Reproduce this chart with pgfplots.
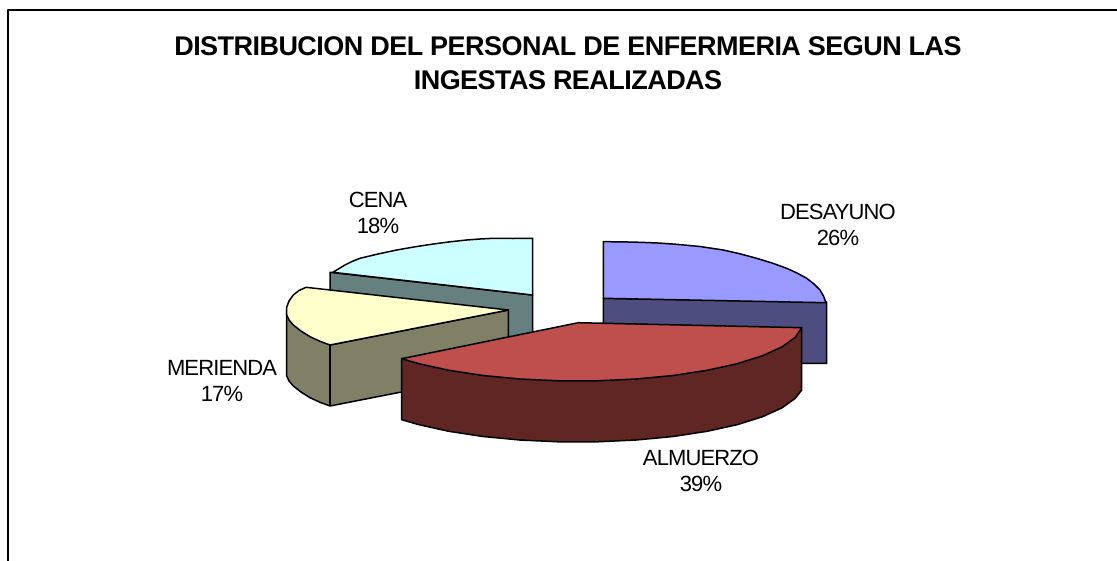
\documentclass[border=0pt]{standalone}
\usepackage{fontspec}
\setmainfont{Liberation Sans}
\usepackage{pgfplots}
\pgfplotsset{compat=1.18}
\newfontfamily\labf[LetterSpace=-4]{Liberation Sans}
\newfontfamily\titf[LetterSpace=-2]{Liberation Sans Bold}
\definecolor{cA}{HTML}{9999FF}\definecolor{cAs}{HTML}{4D4D80}
\definecolor{cB}{HTML}{BE4F4C}\definecolor{cBs}{HTML}{602624}
\definecolor{cC}{HTML}{FFFFCC}\definecolor{cCs}{HTML}{808066}
\definecolor{cD}{HTML}{CCFFFF}\definecolor{cDs}{HTML}{668080}
\begin{document}
\begin{tikzpicture}
\begin{axis}[width=1117pt,height=560pt,scale only axis,hide axis,clip=true,
  xmin=0,xmax=1117,ymin=0,ymax=560,y dir=reverse,
  every axis plot/.append style={draw=black,line width=1.5pt,line join=round}]
\path (axis cs:0,0) rectangle (axis cs:1117,560);
% frame
\addplot[draw=black,line width=1.6pt,no markers] coordinates {(8,570)(8,10)(1125,10)};
% CENA
\addplot[fill=cDs] coordinates {(330,272.3)(532.7,295)(532.7,345)(330,345)} --cycle;
\addplot[fill=cD] coordinates {(532.7,238.3)(513,238.5)(493.3,238.3)(480,239)(466.7,240)(450,241.8)(433.3,244)(415,246.8)(396.7,250)(378,254)(360,258.3)(352,261.5)(345,265)(340,268)(332.7,272.3)(532.7,295)} --cycle;
% MERIENDA
\addplot[fill=cCs] coordinates {(286.7,310)(286.7,376)(289,381)(293.3,386)(301,392)(310,397.7)(320,402.3)(330,406)(508.3,371)(508.3,310)(330,345)} --cycle;
\addplot[fill=cC] coordinates {(508.3,310)(306,287.3)(299,290.5)(293.3,295)(289,301)(286.7,307.3)(286.7,315)(289,320)(293.3,325)(301,331)(310,336.7)(320,341.3)(330,345)} --cycle;
\addplot[draw=black,line width=1.5pt] coordinates {(330,345)(330,406)};
% DESAYUNO
\addplot[fill=cAs] coordinates {(603.3,298.3)(826.7,302)(826.7,363.3)(603.3,363.3)} --cycle;
\addplot[fill=cA] coordinates {(603.3,241.7)(620,241.8)(640,242.3)(658,243)(676.7,244.3)(700,246.5)(723.3,250)(740,253.8)(756.7,258.3)(772,263)(786.7,268.3)(797,273)(806.7,278.3)(814,284)(820,290)(823.5,296)(826,302.7)(603.3,298.3)} --cycle;
% ALMUERZO
\addplot[fill=cBs] coordinates {(401.7,358.7)(401.7,419.7)(418.9,424.7)(448.9,431.3)(482.9,436.5)(519.8,440)(558.4,441.8)(597.6,441.8)(636.2,440)(673.1,436.5)(707.1,431.3)(737.1,424.7)(762.3,416.8)(781.9,407.9)(795.3,398.3)(801.7,390)(801.7,327.7)} --cycle;
\addplot[fill=cB] coordinates {(578.3,322.7)(801.7,327.7)(795.3,337.3)(781.9,346.9)(762.3,355.8)(737.1,363.7)(707.1,370.3)(673.1,375.5)(636.2,379)(597.6,380.8)(558.4,380.8)(519.8,379)(482.9,375.5)(448.9,370.3)(418.9,363.7)(401.7,358.7)} --cycle;
% text
\node[align=center,font=\titf\fontsize{27}{33.5}\selectfont] at (axis cs:568,63) {DISTRIBUCION DEL PERSONAL DE ENFERMERIA SEGUN LAS\\INGESTAS REALIZADAS};
\node[align=center,font=\labf\fontsize{22}{26.5}\selectfont] at (axis cs:838,225) {DESAYUNO\\26\%};
\node[align=center,font=\labf\fontsize{22}{26.5}\selectfont] at (axis cs:378,213) {CENA\\18\%};
\node[align=center,font=\labf\fontsize{22}{26.5}\selectfont] at (axis cs:222,381) {MERIENDA\\17\%};
\node[align=center,font=\labf\fontsize{22}{26.5}\selectfont] at (axis cs:701,471) {ALMUERZO\\39\%};
\end{axis}
\end{tikzpicture}
\end{document}
